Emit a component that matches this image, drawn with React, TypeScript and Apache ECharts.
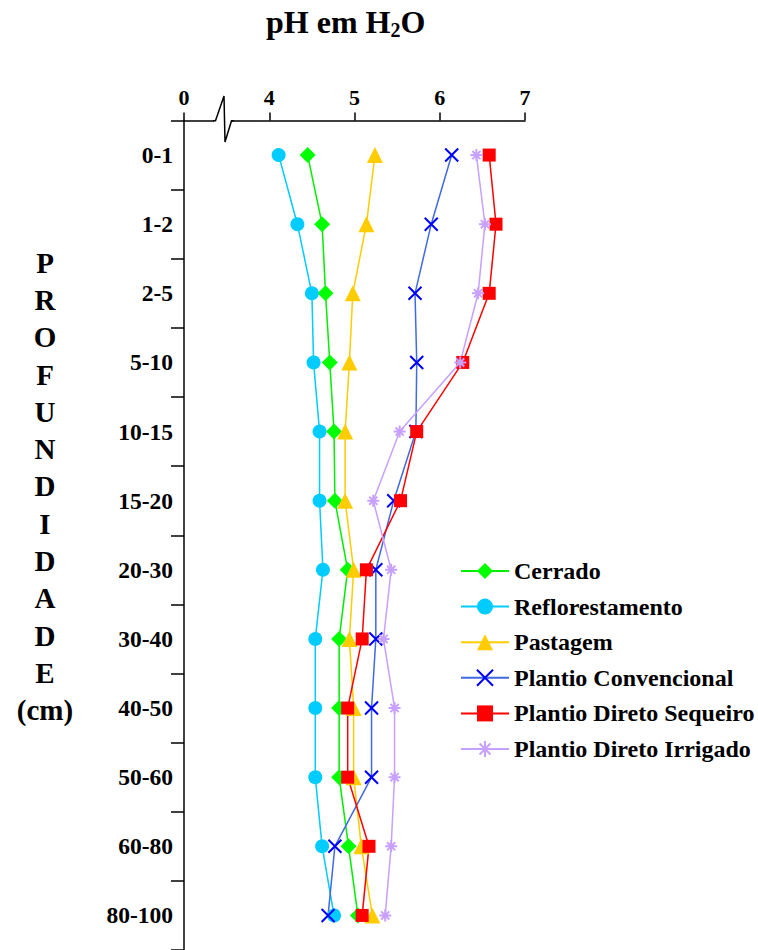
import React, { useEffect, useRef } from "react";
import * as echarts from "echarts";

const depths = ["0-1", "1-2", "2-5", "5-10", "10-15", "15-20", "20-30", "30-40", "40-50", "50-60", "60-80", "80-100"];
const xTicks = [3, 4, 5, 6, 7];
const cerrado = [4.45, 4.62, 4.66, 4.71, 4.76, 4.77, 4.92, 4.82, 4.82, 4.82, 4.93, 5.04];
const reflorestamento = [4.11, 4.33, 4.5, 4.52, 4.59, 4.59, 4.63, 4.54, 4.54, 4.54, 4.62, 4.76];
const pastagem = [5.24, 5.14, 4.98, 4.94, 4.89, 4.89, 4.99, 4.94, 4.99, 4.99, 5.08, 5.21];
const plantioConvencional = [6.14, 5.9, 5.71, 5.73, 5.72, 5.46, 5.25, 5.25, 5.2, 5.2, 4.77, 4.69];
const plantioDiretoSequeiro = [6.58, 6.66, 6.58, 6.27, 5.73, 5.54, 5.14, 5.09, 4.92, 4.92, 5.17, 5.09];
const plantioDiretoIrrigado = [6.43, 6.53, 6.45, 6.24, 5.53, 5.22, 5.43, 5.34, 5.47, 5.47, 5.43, 5.36];
const yNameLetters = ["P", "R", "O", "F", "U", "N", "D", "I", "D", "A", "D", "E", "(cm)"];

const FONT = "'Liberation Serif', 'Times New Roman', serif";
const X_SYMBOL = "path://M0,0L10,10M10,0L0,10";
const STAR_SYMBOL = "path://M5,0L5,10M0,5L10,5M1.6,1.6L8.4,8.4M8.4,1.6L1.6,8.4";

export default function App() {
  const ref = useRef<HTMLDivElement>(null);
  useEffect(() => {
    if (!ref.current) return;
    const chart = echarts.init(ref.current, null, { renderer: "svg" });
    const mk = (name: string, data: number[], symbol: string, size: number, color: string, lineColor: string, stroke: boolean) => ({
      name,
      type: "line",
      data: data.map((v, i) => [v, depths[i]]),
      symbol,
      symbolSize: size,
      showSymbol: true,
      lineStyle: { color: lineColor, width: 1.5 },
      itemStyle: stroke
        ? { color: color, borderColor: color, borderWidth: 2 }
        : { color: color, borderWidth: 0 },
      emphasis: { disabled: true },
    });
    chart.setOption({
      animation: false,
      title: {
        text: "{a|pH em H}{s|2}{a|O}",
        left: 266,
        top: 4,
        padding: 0,
        textStyle: {
          rich: {
            a: { fontSize: 32, fontWeight: "bold", fontFamily: FONT, color: "#000", lineHeight: 36 },
            s: { fontSize: 20, fontWeight: "bold", fontFamily: FONT, color: "#000", verticalAlign: "bottom", lineHeight: 36, padding: [8, 0, 0, 0] },
          },
        },
      },
      grid: { left: 184, top: 120.5, width: 341, height: 834 },
      xAxis: {
        type: "value",
        position: "top",
        min: 3,
        max: 7,
        interval: 1,
        axisLine: { show: true, lineStyle: { color: "#000", width: 1.5 } },
        axisTick: { show: true, inside: false, length: 8, lineStyle: { color: "#000", width: 1.5 } },
        splitLine: { show: false },
        axisLabel: {
          margin: 12,
          fontSize: 22,
          fontWeight: "bold",
          fontFamily: FONT,
          color: "#000",
          formatter: (v: number) => (v === xTicks[0] ? "0" : String(v)),
        },
      },
      yAxis: {
        type: "category",
        inverse: true,
        data: depths,
        boundaryGap: true,
        axisLine: { show: true, lineStyle: { color: "#000", width: 1.5 } },
        axisTick: { show: true, inside: false, length: 13, alignWithLabel: false, lineStyle: { color: "#000", width: 1.5 } },
        axisLabel: { margin: 11, fontSize: 23.5, fontWeight: "bold", fontFamily: FONT, color: "#000" },
        splitLine: { show: false },
      },
      legend: {
        orient: "vertical",
        left: 460,
        top: 559,
        padding: 0,
        itemWidth: 48,
        itemHeight: 20,
        itemGap: 11.6,
        textStyle: { fontSize: 24, fontWeight: "bold", fontFamily: FONT, color: "#000" },
        data: ["Cerrado", "Reflorestamento", "Pastagem", "Plantio Convencional", "Plantio Direto Sequeiro", "Plantio Direto Irrigado"],
      },
      graphic: [
        { type: "rect", z: 100, shape: { x: 214, y: 117, width: 18, height: 8 }, style: { fill: "#fff" } },
        {
          type: "polyline",
          z: 101,
          shape: { points: [[213, 120.7], [215.5, 120.7], [224, 96], [225, 142], [231.5, 120.7], [234, 120.7]] },
          style: { stroke: "#000", lineWidth: 1.5, fill: null },
        },
        {
          type: "text",
          z: 100,
          x: 45,
          y: 244,
          style: {
            text: yNameLetters.join("\n"),
            align: "center",
            verticalAlign: "top",
            font: `bold 29px ${FONT}`,
            lineHeight: 37.3,
            fill: "#000",
          },
        },
      ],
      series: [
        mk("Cerrado", cerrado, "diamond", 16, "#00ff00", "#00ee00", false),
        mk("Reflorestamento", reflorestamento, "circle", 14, "#00ccff", "#00ccff", false),
        mk("Pastagem", pastagem, "triangle", 16, "#ffcc00", "#ffcc00", false),
        mk("Plantio Convencional", plantioConvencional, X_SYMBOL, 13, "#0000ff", "#4169e1", true),
        mk("Plantio Direto Sequeiro", plantioDiretoSequeiro, "rect", 13, "#ff0000", "#ff0000", false),
        mk("Plantio Direto Irrigado", plantioDiretoIrrigado, STAR_SYMBOL, 12, "#c8a0ff", "#c8a0ff", true),
      ],
    });
    return () => chart.dispose();
  }, []);
  return <div ref={ref} style={{ position: "absolute", left: 0, top: 0, width: 758, height: 950 }} />;
}
